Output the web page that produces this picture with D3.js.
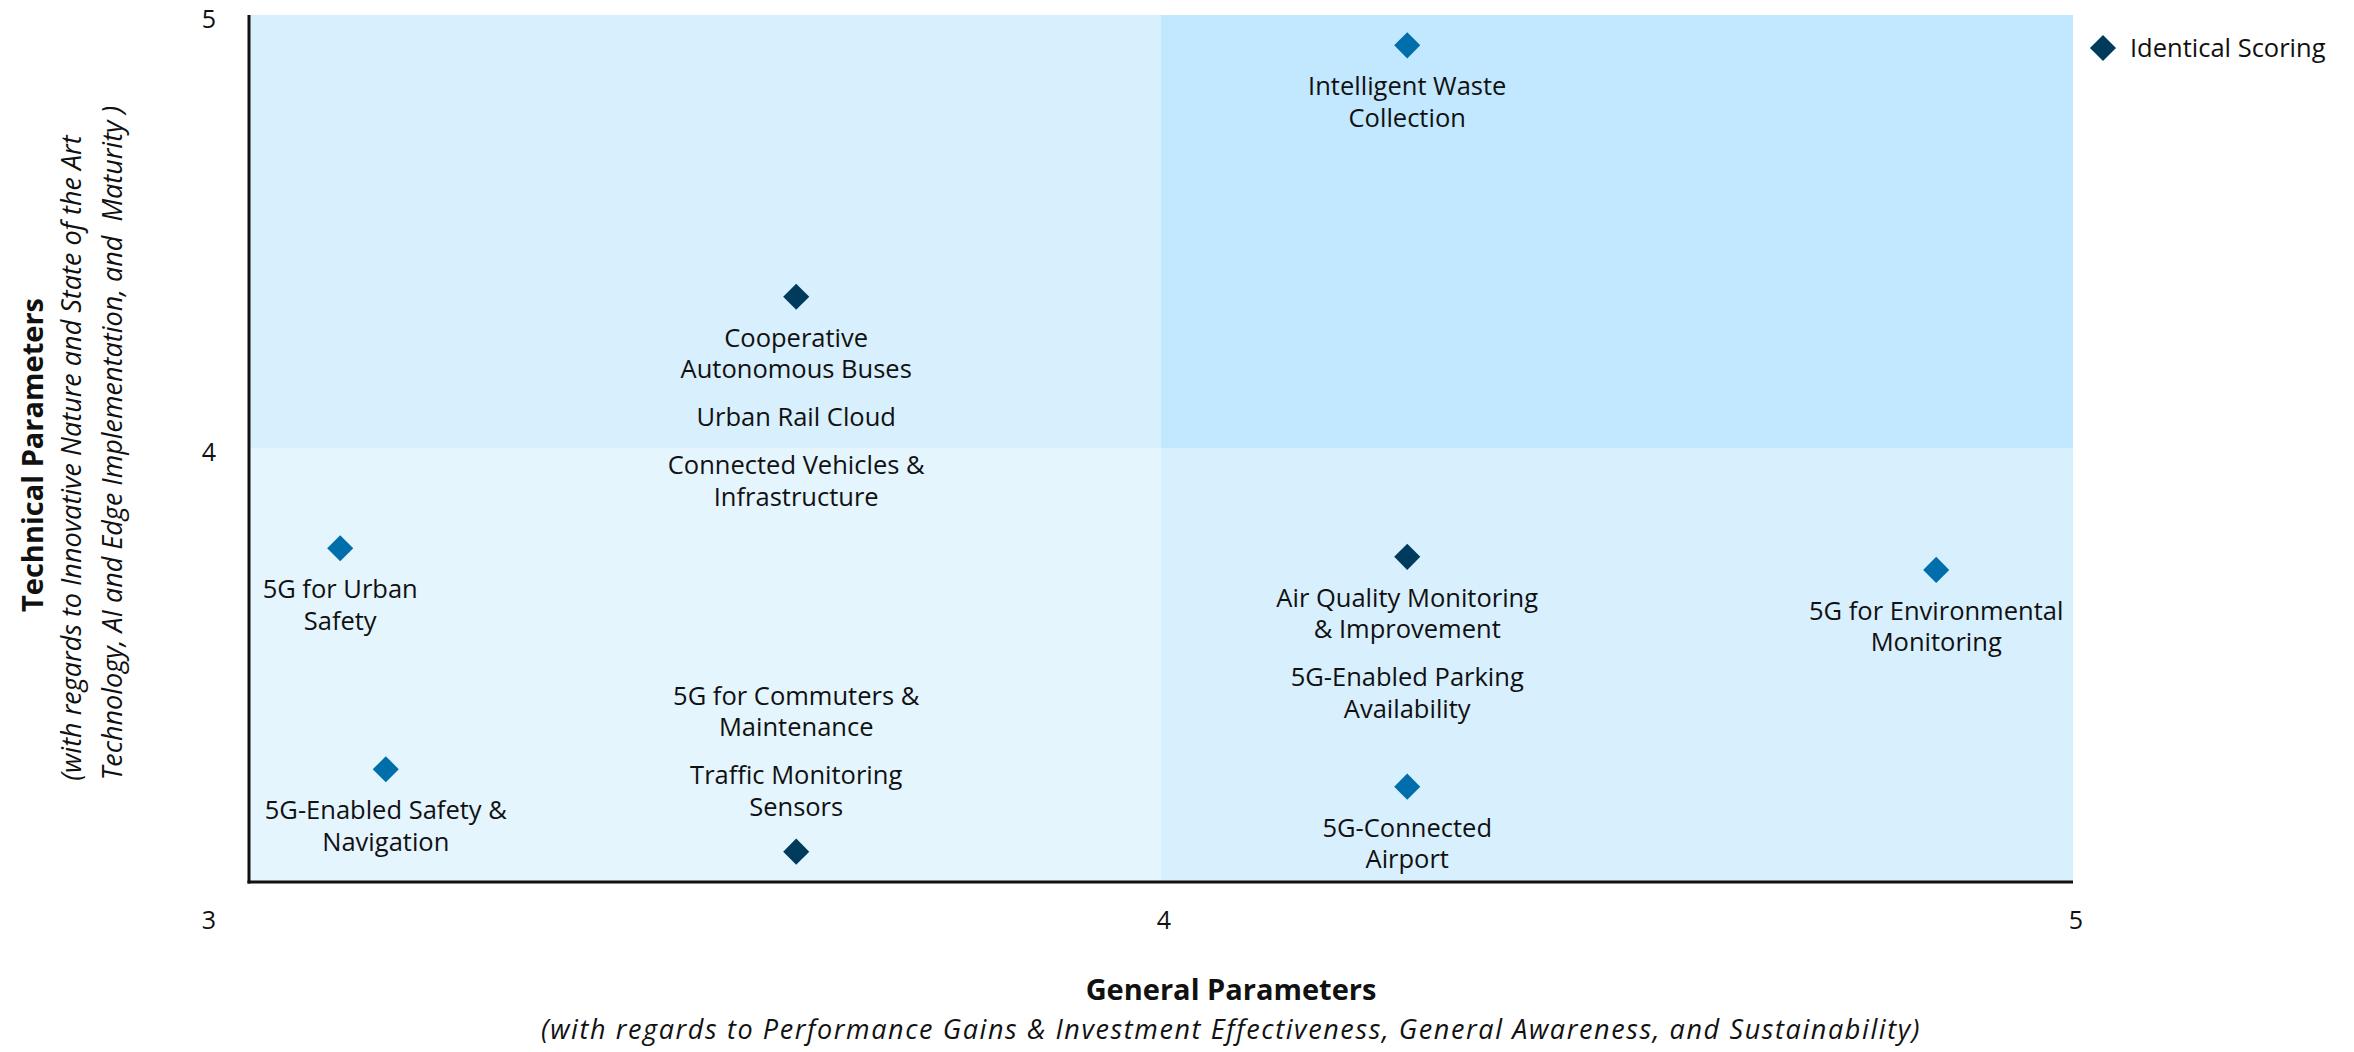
<!DOCTYPE html>
<html>
<head>
<meta charset="utf-8">
<script src="https://cdn.jsdelivr.net/npm/d3@7"></script>
<style>
  body { margin: 0; background: #fff; }
  text { font-family: "Open Sans", "Noto Sans", sans-serif; fill: #111; }
</style>
</head>
<body>
<div id="chart"></div>
<script>
// data
var xTicks = [3, 4, 5];
var yTicks = [4, 5];
var pointX = [4.27, 3.6, 3.1, 3.15, 3.6, 4.27, 4.85, 4.27];
var pointY = [4.93, 4.35, 3.77, 3.26, 3.07, 3.75, 3.72, 3.22];
var pointLabels = [
  [["Intelligent Waste", "Collection"]],
  [["Cooperative", "Autonomous Buses"], ["Urban Rail Cloud"], ["Connected Vehicles &", "Infrastructure"]],
  [["5G for Urban", "Safety"]],
  [["5G-Enabled Safety &", "Navigation"]],
  [["5G for Commuters &", "Maintenance"], ["Traffic Monitoring", "Sensors"]],
  [["Air Quality Monitoring", "& Improvement"], ["5G-Enabled Parking", "Availability"]],
  [["5G for Environmental", "Monitoring"]],
  [["5G-Connected", "Airport"]]
];
var labelSide = ["below", "below", "below", "below", "above", "below", "below", "below"];
var legendLabel = "Identical Scoring";

var svgWidth = 2354;
var svgHeight = 1052;
var margin = { top: 15, right: 281, bottom: 170, left: 249 };
var width = svgWidth - margin.left - margin.right;
var height = svgHeight - margin.top - margin.bottom;

var svg = d3.select("#chart")
  .append("svg")
  .attr("width", svgWidth)
  .attr("height", svgHeight);

var chart = svg.append("g")
  .attr("transform", `translate(${margin.left}, ${margin.top})`);

var x = d3.scaleLinear().domain([3, 5]).range([0, width]);
var y = d3.scaleLinear().domain([3, 5]).range([height, 0]);

// quadrant backgrounds
var quads = [
  { x0: 3, x1: 4, y0: 4, y1: 5, fill: "#d8effd" },
  { x0: 4, x1: 5, y0: 4, y1: 5, fill: "#c1e8ff" },
  { x0: 3, x1: 4, y0: 3, y1: 4, fill: "#e4f5fe" },
  { x0: 4, x1: 5, y0: 3, y1: 4, fill: "#d8effd" }
];
chart.append("g")
  .selectAll("rect")
  .data(quads)
  .enter()
  .append("rect")
  .attr("x", d => x(d.x0))
  .attr("y", d => y(d.y1))
  .attr("width", d => x(d.x1) - x(d.x0))
  .attr("height", d => y(d.y0) - y(d.y1))
  .attr("fill", d => d.fill);

// axis lines
chart.append("line")
  .attr("x1", 0).attr("x2", 0)
  .attr("y1", 0).attr("y2", height + 1.5)
  .attr("stroke", "#111").attr("stroke-width", 3);
chart.append("line")
  .attr("x1", -1.5).attr("x2", width)
  .attr("y1", height).attr("y2", height)
  .attr("stroke", "#111").attr("stroke-width", 3);

// tick labels
chart.append("g")
  .selectAll("text")
  .data(xTicks)
  .enter()
  .append("text")
  .attr("x", d => d === 3 ? x(d) - 40 : x(d) + 3)
  .attr("y", height + 38)
  .attr("dy", "0.35em")
  .attr("text-anchor", "middle")
  .attr("font-size", "25px")
  .text(d => d);

chart.append("g")
  .selectAll("text")
  .data(yTicks)
  .enter()
  .append("text")
  .attr("x", -40)
  .attr("y", d => y(d) + 4)
  .attr("dy", "0.35em")
  .attr("text-anchor", "middle")
  .attr("font-size", "25px")
  .text(d => d);

// points
var points = pointX.map(function(px, i) {
  return { x: px, y: pointY[i], labels: pointLabels[i], side: labelSide[i] };
});

var darkBlue = "#003a5d";
var midBlue = "#006eab";
var diamond = d3.symbol().type(d3.symbolSquare).size(340);

chart.append("g")
  .selectAll("path")
  .data(points)
  .enter()
  .append("path")
  .attr("d", diamond)
  .attr("transform", d => `translate(${x(d.x)}, ${y(d.y)}) rotate(45)`)
  .attr("fill", d => d.labels.length > 1 ? darkBlue : midBlue);

// labels under (or over) each marker
var lineGap = 31.5;
var blockGap = 48;
var labelGroup = chart.append("g");
points.forEach(function(p) {
  var lines = [];
  var pos = 0;
  p.labels.forEach(function(block) {
    block.forEach(function(line, li) {
      lines.push({ text: line, off: pos });
      if (li < block.length - 1) pos += lineGap;
    });
    pos += blockGap;
  });
  var total = lines[lines.length - 1].off;
  lines.forEach(function(l) {
    var dy = p.side === "below" ? 41 + l.off : -45 - (total - l.off);
    labelGroup.append("text")
      .attr("x", x(p.x))
      .attr("y", y(p.y) + dy)
      .attr("dy", "0.35em")
      .attr("text-anchor", "middle")
      .attr("font-size", "25.5px")
      .text(l.text);
  });
});

// legend
var legend = svg.append("g")
  .attr("transform", `translate(${margin.left + width + 30}, 48)`);
legend.append("path")
  .attr("d", diamond)
  .attr("transform", "rotate(45)")
  .attr("fill", darkBlue);
legend.append("text")
  .attr("x", 27)
  .attr("dy", "0.35em")
  .attr("font-size", "25.5px")
  .text(legendLabel);

// x axis titles
var xTitleX = margin.left + width / 2 + 70;
svg.append("text")
  .attr("x", xTitleX)
  .attr("y", 990)
  .attr("dy", "0.35em")
  .attr("text-anchor", "middle")
  .attr("font-size", "29px")
  .attr("font-weight", "bold")
  .text("General Parameters");
svg.append("text")
  .attr("x", xTitleX)
  .attr("y", 1030)
  .attr("dy", "0.35em")
  .attr("text-anchor", "middle")
  .attr("font-size", "27px")
  .attr("letter-spacing", "1.6px")
  .attr("font-style", "italic")
  .text("(with regards to Performance Gains & Investment Effectiveness, General Awareness, and Sustainability)");

// y axis titles
var yTitles = [
  { t: "Technical Parameters", x: 33, cy: 455, bold: true },
  { t: "(with regards to Innovative Nature and State of the Art", x: 72, cy: 458, bold: false },
  { t: "Technology, AI and Edge Implementation, and  Maturity )", x: 113, cy: 443, bold: false }
];
svg.append("g")
  .selectAll("text")
  .data(yTitles)
  .enter()
  .append("text")
  .attr("transform", d => `translate(${d.x}, ${d.cy}) rotate(-90)`)
  .attr("dy", "0.35em")
  .attr("text-anchor", "middle")
  .attr("font-size", d => d.bold ? "29px" : "27px")
  .attr("font-weight", d => d.bold ? "bold" : "normal")
  .attr("font-style", d => d.bold ? "normal" : "italic")
  .style("white-space", "pre")
  .text(d => d.t);
</script>
</body>
</html>
